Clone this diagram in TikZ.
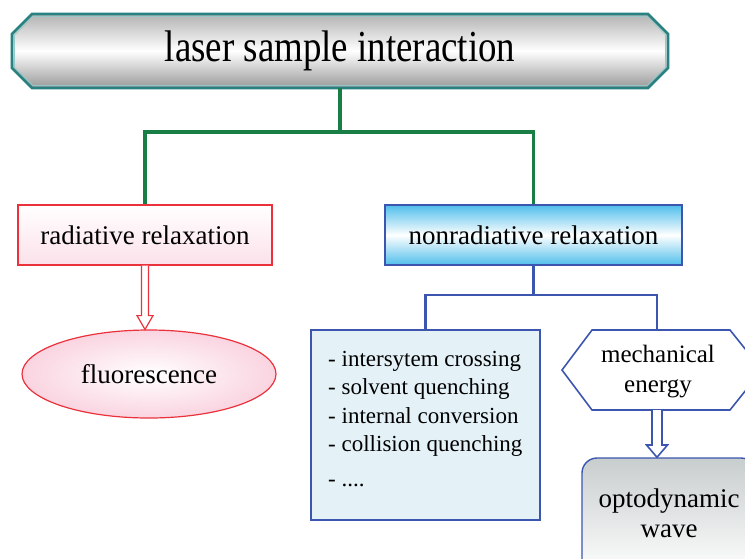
\documentclass[tikz,border=0pt]{standalone}
\usepackage{fontspec}
\setmainfont{Liberation Serif}
\usetikzlibrary{shapes.geometric,calc}

\definecolor{tealrim}{RGB}{40,130,130}
\definecolor{tealhi}{RGB}{150,200,200}
\definecolor{branchgreen}{RGB}{25,125,70}
\definecolor{redrim}{RGB}{235,50,60}
\definecolor{pinkfill}{RGB}{250,212,224}
\definecolor{bluerim}{RGB}{60,85,175}
\definecolor{skyfill}{RGB}{80,190,235}
\definecolor{listfill}{RGB}{228,242,248}
\definecolor{greyfill}{RGB}{200,205,205}

\tikzset{
  fsz/.style={font=\fontsize{#1}{#1}\selectfont},
  titlerim/.style={draw=tealrim, line width=2.6pt, line join=miter,
    top color=black!30, bottom color=black!40, middle color=white},
  radbox/.style={rectangle, draw=redrim, line width=1.2pt, top color=white,
    bottom color=pinkfill!70, minimum width=254pt, minimum height=60pt, inner sep=0pt},
  nonradbox/.style={rectangle, draw=bluerim, line width=1.4pt, top color=skyfill,
    bottom color=skyfill, middle color=white, minimum width=297pt,
    minimum height=60pt, inner sep=0pt},
  ovalbox/.style={ellipse, draw=redrim, line width=1.2pt, inner color=white,
    outer color=pinkfill, minimum width=254pt, minimum height=88pt, inner sep=0pt},
  listbox/.style={rectangle, draw=bluerim, line width=1.4pt, fill=listfill,
    minimum width=229pt, minimum height=190pt, inner sep=0pt},
  wavebox/.style={rectangle, rounded corners=15pt, draw=bluerim, line width=1.4pt,
    top color=greyfill, bottom color=white, minimum width=174pt,
    minimum height=118pt, inner sep=0pt},
  greenline/.style={draw=branchgreen, line width=3.6pt},
  blueline/.style={draw=bluerim, line width=2.6pt},
  listline/.style={anchor=base west, inner sep=0pt, fsz=23},
  baseline text/.style={anchor=base, inner sep=0pt, fsz=#1},
}

\begin{document}
\begin{tikzpicture}[x=1pt,y=-1pt]
\useasboundingbox (0,0) rectangle (745,558);
\clip (0,0) rectangle (745,558);

% heading: chamfered frame with a grey-white-grey shading and a light inner rim
\path[titlerim] (12,34) -- (32,14) -- (648,14) -- (668,34) -- (668,68)
  -- (648,88) -- (32,88) -- (12,68) -- cycle;
\draw[tealhi, line width=0.7pt, line join=miter] (14.5,35) -- (33,16.5) -- (647,16.5)
  -- (665.5,35) -- (665.5,67) -- (647,85.5) -- (33,85.5) -- (14.5,67) -- cycle;
\coordinate (topbase) at (340,88);
\node[inner sep=0pt] (top) at (340,51)
  {\fontsize{41}{41}\selectfont\scalebox{0.9}[1.08]{laser sample interaction}};

% first level
\node[radbox, fsz=27] (rad) at (145,235) {radiative relaxation};
\node[nonradbox, fsz=27] (nonrad) at (533.5,235) {nonradiative relaxation};

\coordinate (gj) at (340,132);
\draw[greenline] (topbase) -- (gj);
\draw[greenline] (rad.north) |- (gj) -| (nonrad.north);

% radiative branch
\node[ovalbox, fsz=27] (fl) at (149,374) {fluorescence};
\draw[redrim, line width=1.2pt, fill=white, line join=miter]
  ($(rad.south)+(-3.5,0)$) -- ($(rad.south)+(-3.5,50)$) -- ($(rad.south)+(-8,50)$)
  -- (rad.south |- fl.north) -- ($(rad.south)+(8,50)$) -- ($(rad.south)+(3.5,50)$)
  -- ($(rad.south)+(3.5,0)$);

% nonradiative branch
\node[listbox] (lst) at (425.5,425) {};
\node[listline] (l1) at (328,366) {- intersytem crossing};
\node[listline] (l2) at (328,394) {- solvent quenching};
\node[listline] (l3) at (328,423) {- internal conversion};
\node[listline] (l4) at (328,451) {- collision quenching};
\node[listline] (l5) at (328,486) {- ....};

\draw[bluerim, line width=1.6pt, fill=white, line join=miter]
  (562,370) -- (592,330) -- (730,330) -- (762,370)
  -- (730,410) -- (592,410) -- cycle;
\coordinate (hextop) at (657,330);
\coordinate (hexbot) at (657,410);
\node[baseline text=25] (mech1) at (658,362) {mechanical};
\node[baseline text=25] (mech2) at (658,392) {energy};

\coordinate (bj) at (538,295);
\draw[blueline] (nonrad.south) -- (nonrad.south |- bj);
\draw[blueline] (lst.north) |- (nonrad.south |- bj) -| (hextop);

\node[wavebox] (wave) at (669,517) {};
\node[baseline text=27] (wave1) at (669,507) {optodynamic};
\node[baseline text=27] (wave2) at (669,537) {wave};

\draw[bluerim, line width=1.6pt, fill=white, line join=miter]
  ($(hexbot)+(-5,0)$) -- ($(hexbot)+(-5,35)$) -- ($(hexbot)+(-10.5,35)$)
  -- (hexbot |- wave.north) -- ($(hexbot)+(10.5,35)$) -- ($(hexbot)+(5,35)$)
  -- ($(hexbot)+(5,0)$);
\end{tikzpicture}
\end{document}
